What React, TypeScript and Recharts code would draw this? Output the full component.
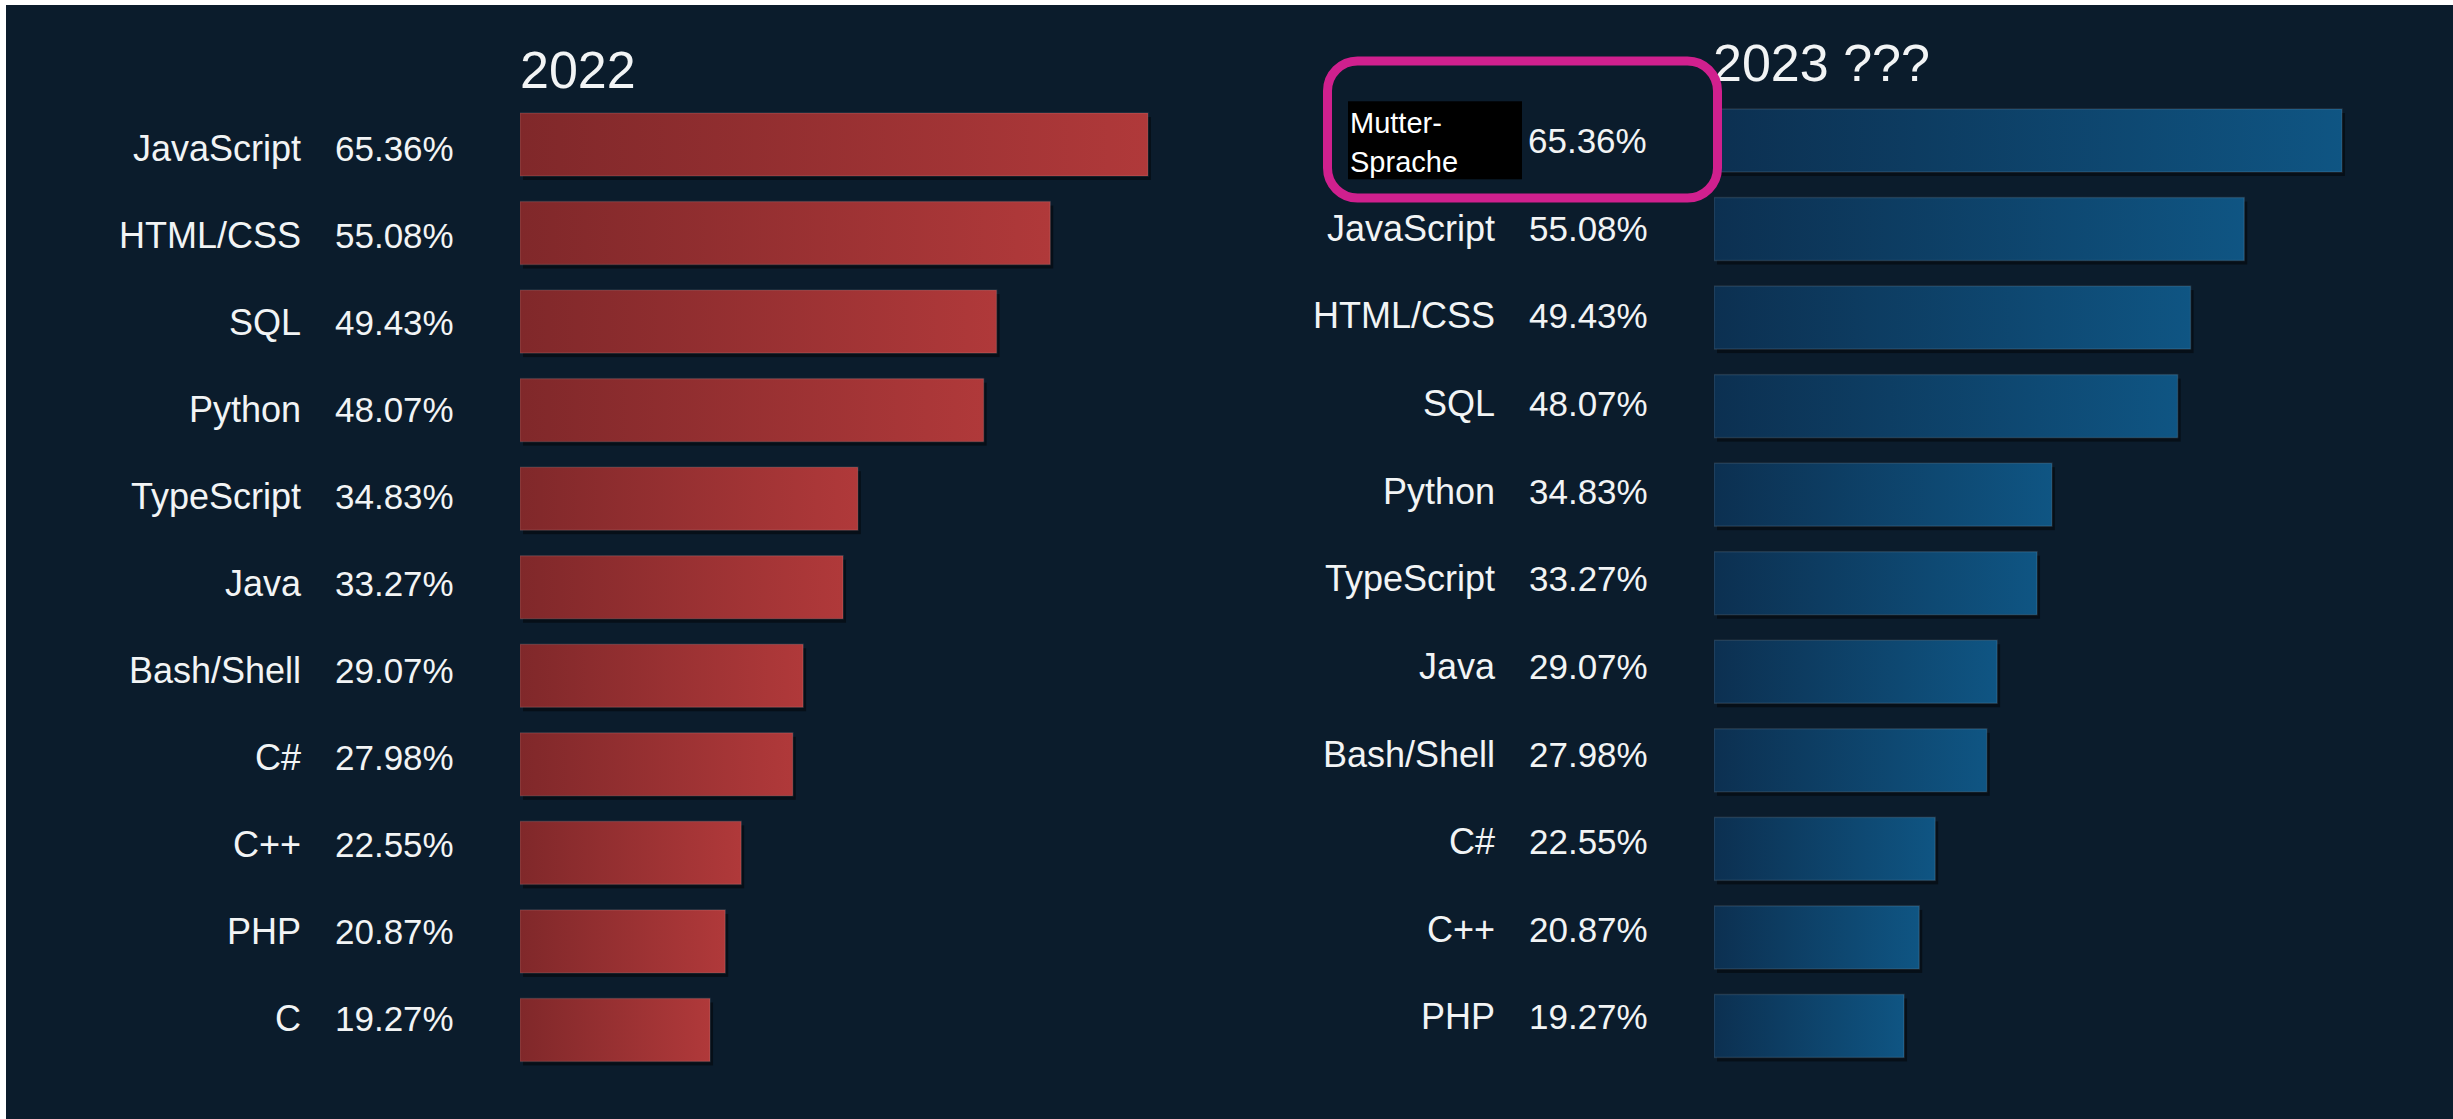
import React from 'react';
import { BarChart, Bar, XAxis, YAxis } from 'recharts';

// ---- data ----
const languages2022 = ['JavaScript', 'HTML/CSS', 'SQL', 'Python', 'TypeScript', 'Java', 'Bash/Shell', 'C#', 'C++', 'PHP', 'C'];
const shares2022 = [65.36, 55.08, 49.43, 48.07, 34.83, 33.27, 29.07, 27.98, 22.55, 20.87, 19.27];

const languages2023 = ['Mutter-Sprache', 'JavaScript', 'HTML/CSS', 'SQL', 'Python', 'TypeScript', 'Java', 'Bash/Shell', 'C#', 'C++', 'PHP'];
const shares2023 = [65.36, 55.08, 49.43, 48.07, 34.83, 33.27, 29.07, 27.98, 22.55, 20.87, 19.27];

const titles = ['2022', '2023 ???'];

const AXIS_MIN = -0.73;
const AXIS_MAX = 70;

const data2022 = languages2022.map((name, i) => ({ name, value: shares2022[i] }));
const data2023 = languages2023.map((name, i) => ({ name, value: shares2023[i] }));

const FONT = '"Liberation Sans", Arial, Helvetica, sans-serif';
const TEXT = '#f2f4f5';
const BG = '#0b1c2c';

const fmt = (v: number) => v.toFixed(2) + '%';

function makeTick(values: number[], special: boolean, base: number, step: number) {
  return (props: any) => {
    const { x, y, payload } = props;
    const idx = props.index ?? payload.index;
    const name: string = payload.value;
    const pct = fmt(values[idx]);
    const yy = y + base + step * idx;
    if (special && idx === 0) {
      const parts = name.split('-');
      return (
        <g>
          <rect x={x - 366} y={y - 39} width={174} height={78} fill="#000000" />
          <text x={x - 364} y={y - 7} fill="#ffffff" fontFamily={FONT} fontSize={29}>{parts[0] + '-'}</text>
          <text x={x - 364} y={y + 32} fill="#ffffff" fontFamily={FONT} fontSize={29}>{parts[1]}</text>
          <text x={x - 186} y={yy + 12.5} fill={TEXT} fontFamily={FONT} fontSize={35} textAnchor="start">{pct}</text>
        </g>
      );
    }
    return (
      <g>
        <text x={x - 219} y={yy + 13} fill={TEXT} fontFamily={FONT} fontSize={36} textAnchor="end">{name}</text>
        <text x={x - 185} y={yy + 13} fill={TEXT} fontFamily={FONT} fontSize={35} textAnchor="start">{pct}</text>
      </g>
    );
  };
}

function makeShape(gradId: string) {
  return (props: any) => {
    const { x, y, width, height } = props;
    if (!width || !height) return <g />;
    return (
      <g>
        <rect x={x + 3} y={y + 4} width={width} height={height} fill="rgba(0,0,0,0.45)" />
        <rect x={x} y={y} width={width} height={height} fill={`url(#${gradId})`} stroke="rgba(255,255,255,0.10)" strokeWidth={1.5} />
      </g>
    );
  };
}

function Panel({ data, values, gradId, from, to, special, marginTop, marginBottom, textBase, textStep }: any) {
  return (
    <BarChart
      width={1200}
      height={1119}
      data={data}
      layout="vertical"
      margin={{ top: marginTop, right: 8, bottom: marginBottom, left: 0 }}
    >
      <defs>
        <linearGradient id={gradId} x1="0" y1="0" x2="1" y2="0">
          <stop offset="0%" stopColor={from} />
          <stop offset="100%" stopColor={to} />
        </linearGradient>
      </defs>
      <XAxis type="number" domain={[AXIS_MIN, AXIS_MAX]} hide allowDataOverflow />
      <YAxis
        type="category"
        dataKey="name"
        width={520}
        tickLine={false}
        axisLine={false}
        tickSize={0}
        tickMargin={0}
        interval={0}
        tick={makeTick(values, special, textBase, textStep)}
      />
      <Bar
        dataKey={(d: any) => [AXIS_MIN, d.value]}
        barSize={63}
        isAnimationActive={false}
        shape={makeShape(gradId)}
      />
    </BarChart>
  );
}

export default function App() {
  return (
    <div style={{ position: 'absolute', left: 0, top: 0, width: 2453, height: 1119, background: '#ffffff', overflow: 'hidden' }}>
      <div style={{ position: 'absolute', left: 6, top: 5, width: 2447, height: 1114, background: BG }} />
      <div style={{ position: 'absolute', left: 0, top: 0 }}>
        <Panel data={data2022} values={shares2022} gradId="redGrad" from="#80282a" to="#b0393a" special={false} marginTop={100} marginBottom={45} textBase={4} textStep={-1.57} />
      </div>
      <div style={{ position: 'absolute', left: 1194, top: 0 }}>
        <Panel data={data2023} values={shares2023} gradId="blueGrad" from="#0c3051" to="#0f5583" special={true} marginTop={96} marginBottom={49} textBase={0} textStep={-0.94} />
      </div>
      <svg width={2453} height={1119} style={{ position: 'absolute', left: 0, top: 0, pointerEvents: 'none' }}>
        <text x={520} y={88} fill={TEXT} fontFamily={FONT} fontSize={52}>{titles[0]}</text>
        <text x={1713} y={81} fill={TEXT} fontFamily={FONT} fontSize={52}>{titles[1]}</text>
        <rect x={1327.5} y={61} width={390} height={137} rx={30} ry={30} fill="none" stroke="#d0208e" strokeWidth={9} />
      </svg>
    </div>
  );
}
